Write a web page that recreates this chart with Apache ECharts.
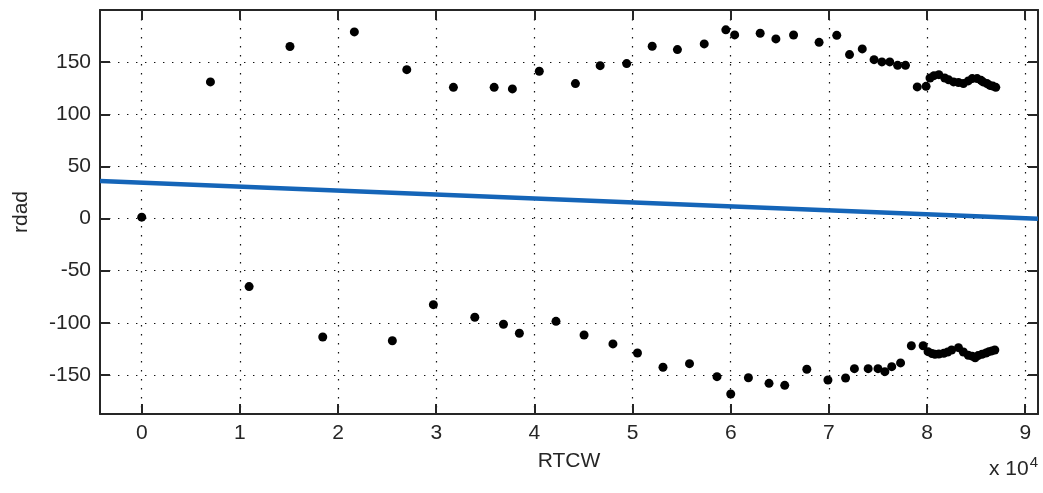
<!DOCTYPE html>
<html>
<head>
<meta charset="utf-8">
<script src="https://cdn.jsdelivr.net/npm/echarts@6/dist/echarts.min.js"></script>
<style>html,body{margin:0;padding:0;background:#fff;}#c{width:1043px;height:493px;}</style>
</head>
<body>
<div id="c"></div>
<script>
// RTCW values (raw units), upper branch
const upperX = [0, 7000, 15100, 21660, 27000, 31750, 35900, 37760, 40500, 44180, 46700, 49400, 52000, 54570, 57300, 59500, 60400, 63000, 64600, 66400, 69000, 70800, 72100, 73400, 74600, 75400, 76200, 77000, 77800, 79000, 79900, 80300, 80700, 81200, 81800, 82200, 82700, 83200, 83700, 84200, 84600, 85100, 85500, 85700, 86100, 86400, 86700, 87000];
const upperY = [1.3, 131, 165, 179, 142.8, 125.8, 125.8, 124.3, 141.2, 129.4, 146.6, 148.6, 165.2, 162, 167.5, 181, 176.1, 177.7, 172.3, 176, 169, 175.7, 157.2, 162.7, 152.4, 150.2, 150.2, 146.9, 146.9, 126.2, 126.8, 134.8, 137, 138, 134.8, 133, 131, 130.5, 129.4, 132, 134.2, 134.2, 132.5, 131, 129.5, 127.7, 127, 125.8];
// lower branch
const lowerX = [10940, 18440, 25530, 29710, 33930, 36850, 38470, 42200, 45060, 48000, 50500, 53100, 55800, 58600, 60000, 61800, 63900, 65500, 67750, 69900, 71700, 72600, 74000, 75000, 75700, 76400, 77300, 78400, 79600, 80100, 80500, 80800, 81200, 81700, 82100, 82500, 83200, 83700, 84200, 84600, 84900, 85200, 85600, 86000, 86300, 86600, 86900];
const lowerY = [-65.3, -113.6, -117.2, -82.6, -94.7, -101.4, -110.1, -98.6, -111.7, -120.3, -129, -142.7, -139.2, -151.7, -168.3, -152.7, -158.1, -160, -144.6, -154.9, -153, -144, -144, -144, -146.9, -142.1, -138.5, -122, -122, -127.7, -129.5, -130.2, -130, -129.3, -128, -126.1, -123.9, -128, -131.2, -132, -133.5, -131.5, -130.2, -129, -127.7, -127, -126.1];
// fitted line end points
const fitX = [-4250, 91300];
const fitY = [36.0, -0.3];
// ticks
const xTicks = [0, 10000, 20000, 30000, 40000, 50000, 60000, 70000, 80000, 90000];
const yTicks = [-150, -100, -50, 0, 50, 100, 150];
const xRange = [-4250, 91300];
const yRange = [-187.5, 200];

const axisColor = '#262626';
const fontFam = '"Liberation Sans", Arial, sans-serif';
const gridLine = { show: true, lineStyle: { color: '#111', width: 1.2, type: [1.4, 7.6] } };

function xAxisBase(pos, main) {
  return {
    type: 'value', position: pos, min: xRange[0], max: xRange[1],
    axisLine: { show: true, onZero: false, lineStyle: { color: axisColor, width: 2 } },
    axisTick: { show: true, inside: true, length: 10, customValues: xTicks, lineStyle: { color: axisColor, width: 2 } },
    axisLabel: main ? { show: true, customValues: xTicks, margin: 9, color: axisColor, fontSize: 21, fontFamily: fontFam, formatter: v => String(v / 10000) } : { show: false },
    splitLine: main ? gridLine : { show: false },
    name: main ? 'RTCW' : '', nameLocation: 'middle', nameGap: 37,
    nameTextStyle: { color: axisColor, fontSize: 21, fontFamily: fontFam }
  };
}
function yAxisBase(pos, main) {
  return {
    type: 'value', position: pos, min: yRange[0], max: yRange[1],
    axisLine: { show: true, onZero: false, lineStyle: { color: axisColor, width: 2 } },
    axisTick: { show: true, inside: true, length: 10, customValues: yTicks, lineStyle: { color: axisColor, width: 2 } },
    axisLabel: main ? { show: true, customValues: yTicks, margin: 9, color: axisColor, fontSize: 21, fontFamily: fontFam } : { show: false },
    splitLine: main ? gridLine : { show: false },
    name: main ? 'rdad' : '', nameLocation: 'middle', nameGap: 68,
    nameTextStyle: { color: axisColor, fontSize: 21, fontFamily: fontFam }
  };
}

const chart = echarts.init(document.getElementById('c'), null, { renderer: 'canvas' });
chart.setOption({
  animation: false,
  backgroundColor: '#fff',
  grid: { left: 100, top: 10, right: 5, bottom: 79, containLabel: false },
  xAxis: [xAxisBase('bottom', true), xAxisBase('top', false)],
  yAxis: [yAxisBase('left', true), yAxisBase('right', false)],
  graphic: [{
    type: 'text', right: 5, top: 455,
    style: {
      text: 'x 10{sup|4}', fill: axisColor, fontSize: 21, fontFamily: fontFam,
      rich: { sup: { fontSize: 15, verticalAlign: 'top', padding: [0, 0, 14, 1], fill: axisColor, fontFamily: fontFam } }
    }
  }],
  series: [
    {
      type: 'line', xAxisIndex: 0, yAxisIndex: 0, symbol: 'none',
      data: fitX.map((x, i) => [x, fitY[i]]),
      lineStyle: { color: '#1565b8', width: 4.5 }, z: 2
    },
    {
      type: 'scatter', xAxisIndex: 0, yAxisIndex: 0, symbolSize: 9,
      data: upperX.map((x, i) => [x, upperY[i]]),
      itemStyle: { color: '#000', opacity: 1 }, z: 3
    },
    {
      type: 'scatter', xAxisIndex: 0, yAxisIndex: 0, symbolSize: 9,
      data: lowerX.map((x, i) => [x, lowerY[i]]),
      itemStyle: { color: '#000', opacity: 1 }, z: 3
    }
  ]
});
</script>
</body>
</html>
